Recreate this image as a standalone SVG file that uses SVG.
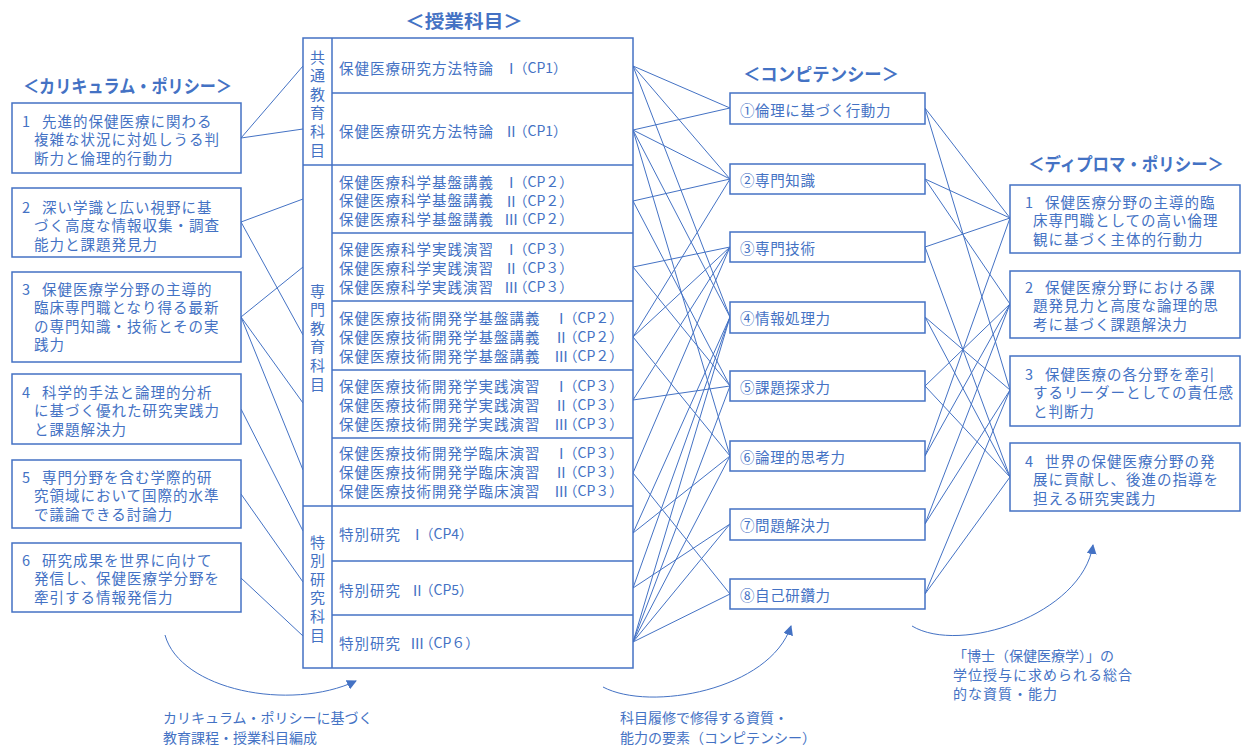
<svg xmlns="http://www.w3.org/2000/svg" width="1242" height="745" viewBox="0 0 1242 745">
<style>
.t{font-family:"Noto Sans CJK JP","Noto Sans",sans-serif;fill:#4472C4;dominant-baseline:central}
.b{font-size:14.5px;letter-spacing:1px}
.c{font-size:14.5px;letter-spacing:0.6px}
.s{font-size:14px}
.h{font-size:18px;font-weight:bold}
.v{font-size:15px;writing-mode:vertical-rl;letter-spacing:3.6px}
.n{letter-spacing:-5px}
.p{font-size:14px;letter-spacing:0}
.box{fill:#fff;stroke:#4472C4;stroke-width:1.5}
.ln{stroke:#4472C4;stroke-width:1;fill:none}
.dv{stroke:#4472C4;stroke-width:1.5}
</style>
<defs>
<marker id="ah" viewBox="0 0 10 10" refX="9" refY="5" markerWidth="10" markerHeight="10" markerUnits="userSpaceOnUse" orient="auto">
<path d="M0,0 L10,5 L0,10 z" fill="#4472C4"/>
</marker>
</defs>
<rect width="1242" height="745" fill="#fff"/>

<g id="connectors">
<line class="ln" x1="241" y1="138" x2="303" y2="66"/>
<line class="ln" x1="241" y1="138" x2="303" y2="129"/>
<line class="ln" x1="241" y1="222" x2="303" y2="199"/>
<line class="ln" x1="241" y1="222" x2="303" y2="335"/>
<line class="ln" x1="241" y1="317" x2="303" y2="267"/>
<line class="ln" x1="241" y1="317" x2="303" y2="403"/>
<line class="ln" x1="241" y1="317" x2="303" y2="470"/>
<line class="ln" x1="241" y1="409" x2="303" y2="531"/>
<line class="ln" x1="241" y1="494" x2="303" y2="582"/>
<line class="ln" x1="241" y1="578" x2="303" y2="636"/>
<line class="ln" x1="633" y1="66" x2="730" y2="108"/>
<line class="ln" x1="633" y1="66" x2="730" y2="179"/>
<line class="ln" x1="633" y1="66" x2="730" y2="317"/>
<line class="ln" x1="633" y1="130" x2="730" y2="108"/>
<line class="ln" x1="633" y1="130" x2="730" y2="179"/>
<line class="ln" x1="633" y1="130" x2="730" y2="317"/>
<line class="ln" x1="633" y1="130" x2="730" y2="456"/>
<line class="ln" x1="633" y1="201" x2="730" y2="179"/>
<line class="ln" x1="633" y1="201" x2="730" y2="386"/>
<line class="ln" x1="633" y1="267" x2="730" y2="247"/>
<line class="ln" x1="633" y1="267" x2="730" y2="386"/>
<line class="ln" x1="633" y1="337" x2="730" y2="179"/>
<line class="ln" x1="633" y1="337" x2="730" y2="247"/>
<line class="ln" x1="633" y1="337" x2="730" y2="456"/>
<line class="ln" x1="633" y1="400" x2="730" y2="247"/>
<line class="ln" x1="633" y1="400" x2="730" y2="386"/>
<line class="ln" x1="633" y1="473" x2="730" y2="247"/>
<line class="ln" x1="633" y1="473" x2="730" y2="594"/>
<line class="ln" x1="633" y1="533" x2="730" y2="317"/>
<line class="ln" x1="633" y1="533" x2="730" y2="456"/>
<line class="ln" x1="633" y1="588" x2="730" y2="317"/>
<line class="ln" x1="633" y1="588" x2="730" y2="524"/>
<line class="ln" x1="633" y1="642" x2="730" y2="317"/>
<line class="ln" x1="633" y1="642" x2="730" y2="386"/>
<line class="ln" x1="633" y1="642" x2="730" y2="456"/>
<line class="ln" x1="633" y1="642" x2="730" y2="524"/>
<line class="ln" x1="633" y1="642" x2="730" y2="594"/>
<line class="ln" x1="925" y1="108" x2="1010" y2="218"/>
<line class="ln" x1="925" y1="108" x2="1010" y2="390"/>
<line class="ln" x1="925" y1="179" x2="1010" y2="218"/>
<line class="ln" x1="925" y1="179" x2="1010" y2="304"/>
<line class="ln" x1="925" y1="247" x2="1010" y2="218"/>
<line class="ln" x1="925" y1="247" x2="1010" y2="477"/>
<line class="ln" x1="925" y1="317" x2="1010" y2="390"/>
<line class="ln" x1="925" y1="317" x2="1010" y2="477"/>
<line class="ln" x1="925" y1="386" x2="1010" y2="304"/>
<line class="ln" x1="925" y1="386" x2="1010" y2="477"/>
<line class="ln" x1="925" y1="456" x2="1010" y2="218"/>
<line class="ln" x1="925" y1="456" x2="1010" y2="304"/>
<line class="ln" x1="925" y1="524" x2="1010" y2="304"/>
<line class="ln" x1="925" y1="524" x2="1010" y2="390"/>
<line class="ln" x1="925" y1="594" x2="1010" y2="390"/>
<line class="ln" x1="925" y1="594" x2="1010" y2="477"/>
<path class="ln" d="M165,635 C180,690 290,712 356,681" marker-end="url(#ah)"/>
<path class="ln" d="M603,687 C650,712 770,690 791,626" marker-end="url(#ah)"/>
<path class="ln" d="M912,626 C960,655 1082,615 1093,545" marker-end="url(#ah)"/>
</g>

<g id="headings">
<text class="t h" x="405" y="20" textLength="118" lengthAdjust="spacingAndGlyphs">＜授業科目＞</text>
<text class="t h" x="23" y="85" textLength="209" lengthAdjust="spacingAndGlyphs">＜カリキュラム・ポリシー＞</text>
<text class="t h" x="743" y="73" textLength="156" lengthAdjust="spacingAndGlyphs">＜コンピテンシー＞</text>
<text class="t h" x="1028" y="163" textLength="196" lengthAdjust="spacingAndGlyphs">＜ディプロマ・ポリシー＞</text>
</g>

<g id="cp1"><rect class="box" x="12" y="103" width="229" height="70"/>
<text class="t b" x="22" y="120">1<tspan x="42">先進的保健医療に関わる</tspan></text>
<text class="t b" x="34" y="138.5">複雑な状況に対処しうる判</text><text class="t b" x="34" y="157">断力と倫理的行動力</text></g>
<g id="cp2"><rect class="box" x="12" y="188" width="229" height="69"/>
<text class="t b" x="22" y="206">2<tspan x="42">深い学識と広い視野に基</tspan></text>
<text class="t b" x="34" y="224.5">づく高度な情報収集・調査</text><text class="t b" x="34" y="243">能力と課題発見力</text></g>
<g id="cp3"><rect class="box" x="12" y="272" width="229" height="90"/>
<text class="t b" x="22" y="288">3<tspan x="42">保健医療学分野の主導的</tspan></text>
<text class="t b" x="34" y="306.5">臨床専門職となり得る最新</text><text class="t b" x="34" y="325">の専門知識・技術とその実</text>
<text class="t b" x="34" y="343.5">践力</text></g>
<g id="cp4"><rect class="box" x="12" y="374" width="229" height="70"/>
<text class="t b" x="22" y="391">4<tspan x="42">科学的手法と論理的分析</tspan></text>
<text class="t b" x="34" y="409.5">に基づく優れた研究実践力</text><text class="t b" x="34" y="428">と課題解決力</text></g>
<g id="cp5"><rect class="box" x="12" y="460" width="229" height="68"/>
<text class="t b" x="22" y="476">5<tspan x="42">専門分野を含む学際的研</tspan></text>
<text class="t b" x="34" y="494.5">究領域において国際的水準</text><text class="t b" x="34" y="513">で議論できる討論力</text></g>
<g id="cp6"><rect class="box" x="12" y="543" width="229" height="69"/>
<text class="t b" x="22" y="559">6<tspan x="42">研究成果を世界に向けて</tspan></text>
<text class="t b" x="34" y="577.5">発信し、保健医療学分野を</text><text class="t b" x="34" y="596">牽引する情報発信力</text></g>

<g id="courses">
<rect class="box" x="303" y="38" width="330" height="630"/>
<line class="dv" x1="332" y1="38" x2="332" y2="668"/>
<line class="dv" x1="303" y1="165" x2="633" y2="165"/>
<line class="dv" x1="303" y1="506" x2="633" y2="506"/>
<line class="dv" x1="332" y1="93" x2="633" y2="93"/>
<line class="dv" x1="332" y1="233" x2="633" y2="233"/>
<line class="dv" x1="332" y1="301" x2="633" y2="301"/>
<line class="dv" x1="332" y1="370" x2="633" y2="370"/>
<line class="dv" x1="332" y1="438" x2="633" y2="438"/>
<line class="dv" x1="332" y1="561" x2="633" y2="561"/>
<line class="dv" x1="332" y1="615" x2="633" y2="615"/>
<g id="cat-common"><text class="t v" x="317.5" y="49.5">共通教育科目</text></g>
<g id="cat-special"><text class="t v" x="317.5" y="283.5">専門教育科目</text></g>
<g id="cat-research"><text class="t v" x="317.5" y="534.5">特別研究科目</text></g>

<g id="c1"><text class="t b" x="339" y="67">保健医療研究方法特論<tspan class="n" x="504">Ⅰ</tspan><tspan class="p">（CP1）</tspan></text></g>
<g id="c2"><text class="t b" x="339" y="130">保健医療研究方法特論<tspan class="n" x="504">Ⅱ</tspan><tspan class="p">（CP1）</tspan></text></g>
<g id="c3">
<text class="t b" x="339" y="181">保健医療科学基盤講義<tspan class="n" x="504">Ⅰ</tspan><tspan class="p">（CP２）</tspan></text>
<text class="t b" x="339" y="199.5">保健医療科学基盤講義<tspan class="n" x="504">Ⅱ</tspan><tspan class="p">（CP２）</tspan></text>
<text class="t b" x="339" y="218">保健医療科学基盤講義<tspan class="n" x="504">Ⅲ</tspan><tspan class="p">（CP２）</tspan></text></g>
<g id="c4">
<text class="t b" x="339" y="248">保健医療科学実践演習<tspan class="n" x="504">Ⅰ</tspan><tspan class="p">（CP３）</tspan></text>
<text class="t b" x="339" y="267">保健医療科学実践演習<tspan class="n" x="504">Ⅱ</tspan><tspan class="p">（CP３）</tspan></text>
<text class="t b" x="339" y="286">保健医療科学実践演習<tspan class="n" x="504">Ⅲ</tspan><tspan class="p">（CP３）</tspan></text></g>
<g id="c5">
<text class="t b" x="339" y="317">保健医療技術開発学基盤講義<tspan class="n" x="554">Ⅰ</tspan><tspan class="p">（CP２）</tspan></text>
<text class="t b" x="339" y="336">保健医療技術開発学基盤講義<tspan class="n" x="554">Ⅱ</tspan><tspan class="p">（CP２）</tspan></text>
<text class="t b" x="339" y="355">保健医療技術開発学基盤講義<tspan class="n" x="554">Ⅲ</tspan><tspan class="p">（CP２）</tspan></text></g>
<g id="c6">
<text class="t b" x="339" y="385">保健医療技術開発学実践演習<tspan class="n" x="554">Ⅰ</tspan><tspan class="p">（CP３）</tspan></text>
<text class="t b" x="339" y="404">保健医療技術開発学実践演習<tspan class="n" x="554">Ⅱ</tspan><tspan class="p">（CP３）</tspan></text>
<text class="t b" x="339" y="423">保健医療技術開発学実践演習<tspan class="n" x="554">Ⅲ</tspan><tspan class="p">（CP３）</tspan></text></g>
<g id="c7">
<text class="t b" x="339" y="452">保健医療技術開発学臨床演習<tspan class="n" x="554">Ⅰ</tspan><tspan class="p">（CP３）</tspan></text>
<text class="t b" x="339" y="471">保健医療技術開発学臨床演習<tspan class="n" x="554">Ⅱ</tspan><tspan class="p">（CP３）</tspan></text>
<text class="t b" x="339" y="490">保健医療技術開発学臨床演習<tspan class="n" x="554">Ⅲ</tspan><tspan class="p">（CP３）</tspan></text></g>
<g id="c8"><text class="t b" x="339" y="533">特別研究<tspan class="n" x="410">Ⅰ</tspan><tspan class="p">（CP4）</tspan></text></g>
<g id="c9"><text class="t b" x="339" y="589">特別研究<tspan class="n" x="410">Ⅱ</tspan><tspan class="p">（CP5）</tspan></text></g>
<g id="c10"><text class="t b" x="339" y="642">特別研究<tspan class="n" x="410">Ⅲ</tspan><tspan class="p">（CP６）</tspan></text></g>
</g>

<g id="k1"><rect class="box" x="730" y="93" width="195" height="31"/><text class="t c" x="740" y="109">①倫理に基づく行動力</text></g>
<g id="k2"><rect class="box" x="730" y="164" width="195" height="30"/><text class="t c" x="740" y="179">②専門知識</text></g>
<g id="k3"><rect class="box" x="730" y="232" width="195" height="30"/><text class="t c" x="740" y="247">③専門技術</text></g>
<g id="k4"><rect class="box" x="730" y="302" width="195" height="31"/><text class="t c" x="740" y="317">④情報処理力</text></g>
<g id="k5"><rect class="box" x="730" y="371" width="195" height="30"/><text class="t c" x="740" y="386">⑤課題探求力</text></g>
<g id="k6"><rect class="box" x="730" y="441" width="195" height="30"/><text class="t c" x="740" y="456">⑥論理的思考力</text></g>
<g id="k7"><rect class="box" x="730" y="509" width="195" height="31"/><text class="t c" x="740" y="524">⑦問題解決力</text></g>
<g id="k8"><rect class="box" x="730" y="579" width="195" height="30"/><text class="t c" x="740" y="594">⑧自己研鑽力</text></g>

<g id="dp1"><rect class="box" x="1010" y="185" width="230" height="68"/>
<text class="t b" x="1025" y="201">1<tspan x="1045">保健医療分野の主導的臨</tspan></text>
<text class="t b" x="1033" y="219.5">床専門職としての高い倫理</text><text class="t b" x="1033" y="238">観に基づく主体的行動力</text></g>
<g id="dp2"><rect class="box" x="1010" y="271" width="230" height="67"/>
<text class="t b" x="1025" y="286">2<tspan x="1045">保健医療分野における課</tspan></text>
<text class="t b" x="1033" y="304.5">題発見力と高度な論理的思</text><text class="t b" x="1033" y="323">考に基づく課題解決力</text></g>
<g id="dp3"><rect class="box" x="1010" y="356" width="230" height="70"/>
<text class="t b" x="1025" y="373">3<tspan x="1045">保健医療の各分野を牽引</tspan></text>
<text class="t b" x="1033" y="391.5">するリーダーとしての責任感</text><text class="t b" x="1033" y="410">と判断力</text></g>
<g id="dp4"><rect class="box" x="1010" y="443" width="230" height="68"/>
<text class="t b" x="1025" y="460">4<tspan x="1045">世界の保健医療分野の発</tspan></text>
<text class="t b" x="1033" y="478.5">展に貢献し、後進の指導を</text><text class="t b" x="1033" y="497">担える研究実践力</text></g>

<g id="note-left"><text class="t s" x="163" y="717">カリキュラム・ポリシーに基づく</text><text class="t s" x="163" y="737">教育課程・授業科目編成</text></g>
<g id="note-mid"><text class="t s" x="620" y="717">科目履修で修得する資質・</text><text class="t s" x="620" y="737">能力の要素（コンピテンシー）</text></g>
<g id="note-right"><text class="t s" x="953" y="655">「博士（保健医療学）」の</text><text class="t s" x="953" y="674" style="letter-spacing:1px">学位授与に求められる総合</text><text class="t s" x="953" y="693" style="letter-spacing:1px">的な資質・能力</text></g>
</svg>
